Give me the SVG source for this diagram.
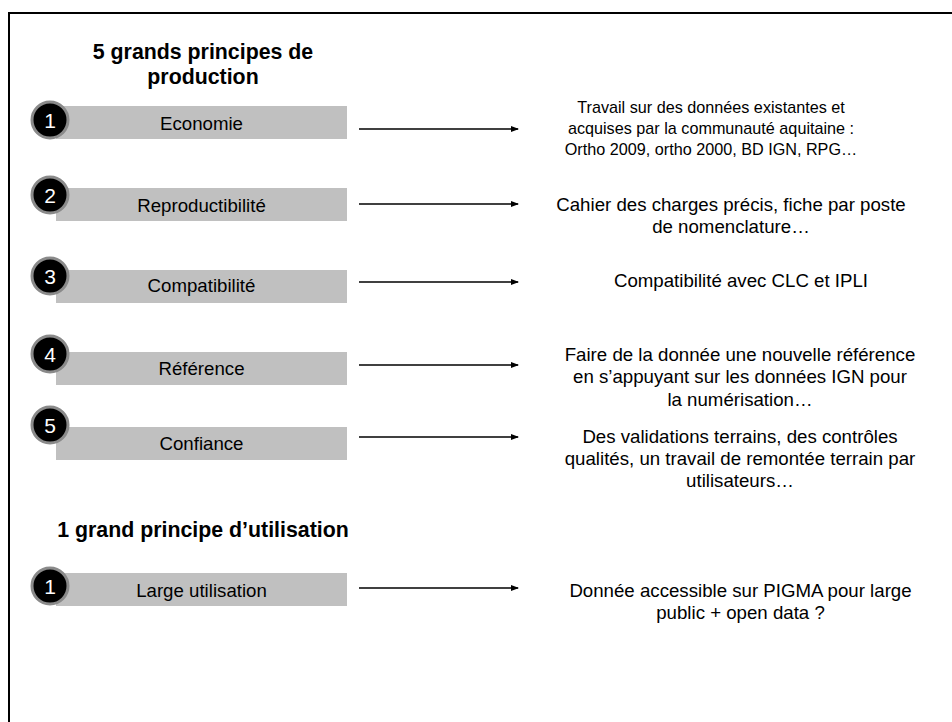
<svg xmlns="http://www.w3.org/2000/svg" width="952" height="722" viewBox="0 0 952 722">
<defs>
<style>
.t{font-family:"Liberation Sans",Arial,sans-serif;fill:#000}
.h{font-size:21.33px;font-weight:bold;text-anchor:middle}
.bl{font-size:18.67px;text-anchor:middle}
.r{font-size:18.67px;text-anchor:middle}
.rs{font-size:16.2px;text-anchor:middle}
.bar{fill:#c0c0c0}
.num{fill:#000;stroke:#8a8a8a;stroke-width:3}
.nt{font-family:"Liberation Sans",Arial,sans-serif;font-size:21px;fill:#fff;text-anchor:middle}
.arr{stroke:#000;stroke-width:1.5;fill:none;marker-end:url(#ah)}
</style>
<marker id="ah" markerWidth="8" markerHeight="6" refX="7" refY="3" orient="auto" markerUnits="userSpaceOnUse">
<path d="M0,0 L8,3 L0,6 Z" fill="#000"/>
</marker>
</defs>
<rect width="952" height="722" fill="#fff"/>
<rect x="9" y="13" width="960" height="720" fill="none" stroke="#000" stroke-width="2"/>

<g id="title1"><text class="t h" x="203" y="59">5 grands principes de</text><text class="t h" x="203" y="84">production</text></g>
<g id="title2"><text class="t h" x="203" y="537">1 grand principe d’utilisation</text></g>

<g id="n1"><rect class="bar" x="56" y="106" width="291" height="33"/><circle class="num" cx="50" cy="120" r="18"/><text class="nt" x="50" y="128">1</text><text class="t bl" x="201.5" y="130">Economie</text></g>
<g id="n2"><rect class="bar" x="56" y="188" width="291" height="33"/><circle class="num" cx="50" cy="195" r="18"/><text class="nt" x="50" y="203">2</text><text class="t bl" x="201.5" y="212">Reproductibilité</text></g>
<g id="n3"><rect class="bar" x="56" y="270" width="291" height="33"/><circle class="num" cx="50" cy="276" r="18"/><text class="nt" x="50" y="284">3</text><text class="t bl" x="201.5" y="292">Compatibilité</text></g>
<g id="n4"><rect class="bar" x="56" y="352" width="291" height="33"/><circle class="num" cx="50" cy="354" r="18"/><text class="nt" x="50" y="362">4</text><text class="t bl" x="201.5" y="375">Référence</text></g>
<g id="n5"><rect class="bar" x="56" y="427" width="291" height="33"/><circle class="num" cx="50" cy="425" r="18"/><text class="nt" x="50" y="433">5</text><text class="t bl" x="201.5" y="450">Confiance</text></g>
<g id="n6"><rect class="bar" x="56" y="573" width="291" height="33"/><circle class="num" cx="50" cy="586" r="18"/><text class="nt" x="50" y="594">1</text><text class="t bl" x="201.5" y="597">Large utilisation</text></g>

<g id="d1"><text class="t rs" x="711" y="113">Travail sur des données existantes et</text><text class="t rs" x="711" y="134">acquises par la communauté aquitaine :</text><text class="t rs" x="711" y="155">Ortho 2009, ortho 2000, BD IGN, RPG…</text></g>
<g id="d2"><text class="t r" x="731" y="210.5">Cahier des charges précis, fiche par poste</text><text class="t r" x="731" y="232.5">de nomenclature…</text></g>
<g id="d3"><text class="t r" x="741" y="287">Compatibilité avec CLC et IPLI</text></g>
<g id="d4"><text class="t r" x="740" y="361">Faire de la donnée une nouvelle référence</text><text class="t r" x="740" y="383">en s’appuyant sur les données IGN pour</text><text class="t r" x="740" y="405.5">la numérisation…</text></g>
<g id="d5"><text class="t r" x="740" y="443">Des validations terrains, des contrôles</text><text class="t r" x="740" y="465">qualités, un travail de remontée terrain par</text><text class="t r" x="740" y="487">utilisateurs…</text></g>
<g id="d6"><text class="t r" x="740.5" y="597">Donnée accessible sur PIGMA pour large</text><text class="t r" x="740.5" y="619">public + open data ?</text></g>

<g id="connectors">
<line class="arr" x1="359" y1="129" x2="518" y2="129"/>
<line class="arr" x1="359" y1="204" x2="518" y2="204"/>
<line class="arr" x1="359" y1="282" x2="518" y2="282"/>
<line class="arr" x1="359" y1="365" x2="518" y2="365"/>
<line class="arr" x1="359" y1="437" x2="518" y2="437"/>
<line class="arr" x1="359" y1="588" x2="518" y2="588"/>
</g>
</svg>
